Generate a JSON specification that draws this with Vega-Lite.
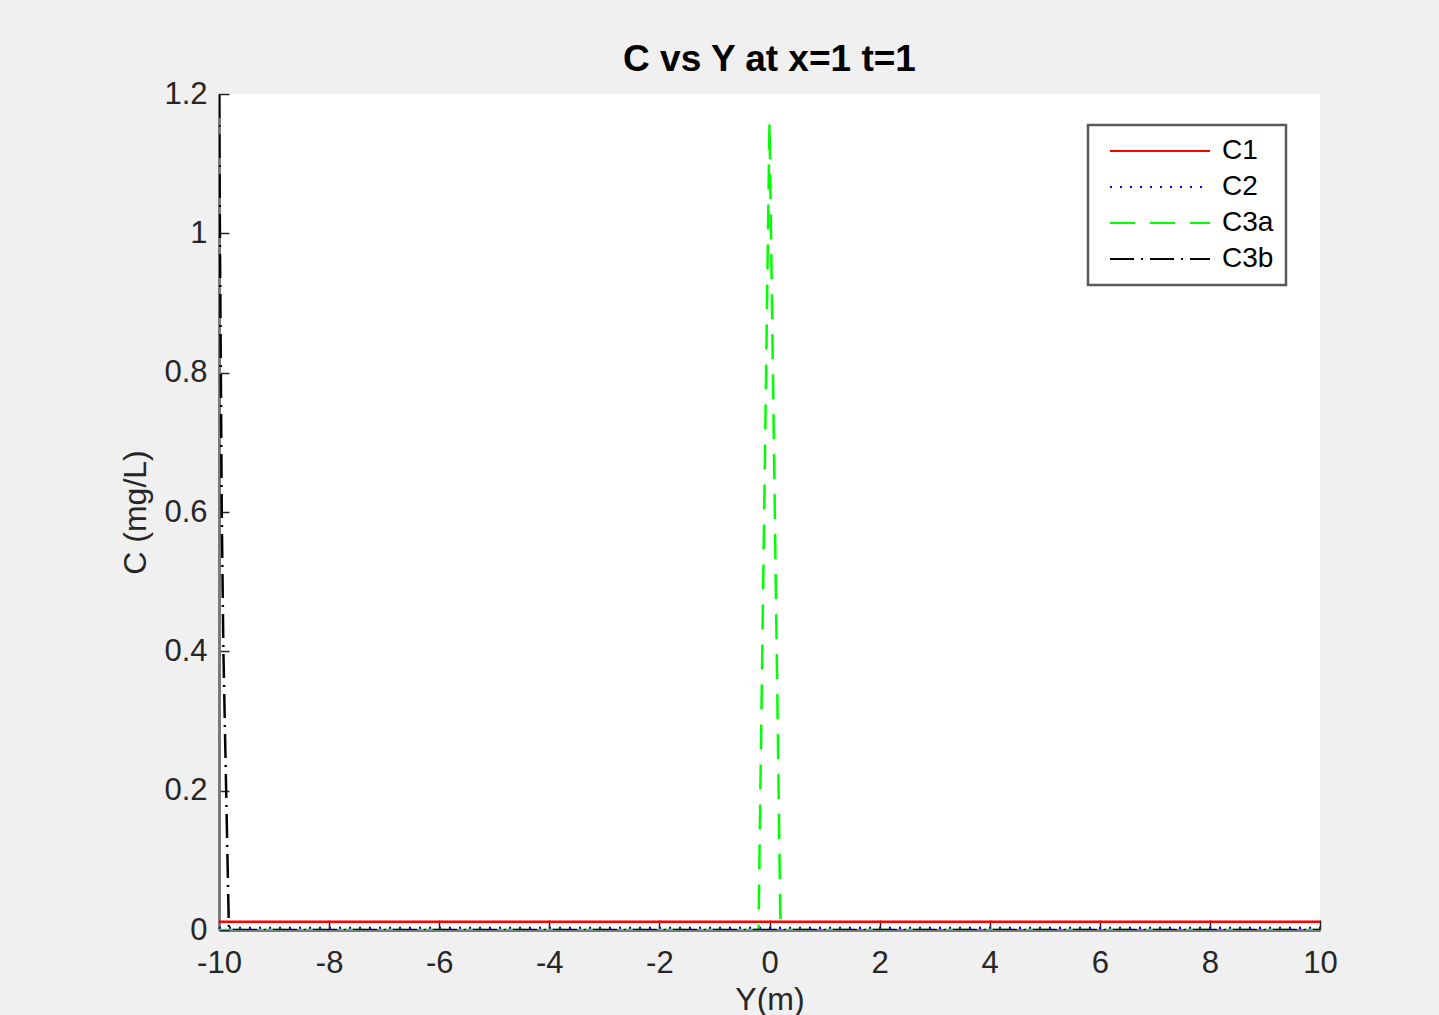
{
  "$schema": "https://vega.github.io/schema/vega-lite/v6.json",
  "width": 1101,
  "height": 836,
  "autosize": {"type": "none"},
  "padding": {"left": 219, "top": 94, "right": 119, "bottom": 85},
  "background": "#f0f0f0",
  "title": {
    "text": "C vs Y at x=1 t=1",
    "font": "Liberation Sans",
    "fontSize": 37,
    "fontWeight": "bold",
    "color": "#000000",
    "anchor": "middle",
    "baseline": "alphabetic",
    "offset": -30
  },
  "data": {
    "values": [
      {"series": "C1", "Y": -10, "C": 0.012},
      {"series": "C1", "Y": 10, "C": 0.012},
      {"series": "C2", "Y": -10, "C": 0.003},
      {"series": "C2", "Y": 10, "C": 0.003},
      {"series": "C3a", "Y": -10, "C": 0},
      {"series": "C3a", "Y": -0.2, "C": 0},
      {"series": "C3a", "Y": 0, "C": 1.16},
      {"series": "C3a", "Y": 0.2, "C": 0},
      {"series": "C3a", "Y": 10, "C": 0},
      {"series": "C3b", "Y": -10, "C": 1.2},
      {"series": "C3b", "Y": -9.95, "C": 0.6},
      {"series": "C3b", "Y": -9.92, "C": 0.4},
      {"series": "C3b", "Y": -9.87, "C": 0.2},
      {"series": "C3b", "Y": -9.82, "C": 0},
      {"series": "C3b", "Y": 10, "C": 0}
    ]
  },
  "mark": {"type": "line", "strokeWidth": 2.5, "clip": true},
  "encoding": {
    "x": {
      "field": "Y",
      "type": "quantitative",
      "scale": {"domain": [-10, 10], "nice": false, "zero": false},
      "axis": {
        "title": "Y(m)",
        "values": [-10, -8, -6, -4, -2, 0, 2, 4, 6, 8, 10],
        "labelExpr": "toString(datum.value)",
        "grid": false,
        "domainColor": "#7a7a7a",
        "domainWidth": 3,
        "tickColor": "#262626",
        "tickSize": -10,
        "tickWidth": 1.5,
        "labelFont": "Liberation Sans",
        "labelFontSize": 31,
        "labelColor": "#262626",
        "labelPadding": 28,
        "labelFlush": false,
        "titleFont": "Liberation Sans",
        "titleFontSize": 32,
        "titleFontWeight": "normal",
        "titleColor": "#262626",
        "titlePadding": 6
      }
    },
    "y": {
      "field": "C",
      "type": "quantitative",
      "scale": {"domain": [0, 1.2], "nice": false},
      "axis": {
        "title": "C (mg/L)",
        "values": [0, 0.2, 0.4, 0.6, 0.8, 1, 1.2],
        "labelExpr": "toString(datum.value)",
        "grid": false,
        "domainColor": "#7a7a7a",
        "domainWidth": 3,
        "tickColor": "#262626",
        "tickSize": -10,
        "tickWidth": 1.5,
        "labelFont": "Liberation Sans",
        "labelFontSize": 31,
        "labelColor": "#262626",
        "labelPadding": 22,
        "labelFlush": false,
        "titleFont": "Liberation Sans",
        "titleFontSize": 32,
        "titleFontWeight": "normal",
        "titleColor": "#262626",
        "titlePadding": 11
      }
    },
    "color": {
      "field": "series",
      "type": "nominal",
      "scale": {
        "domain": ["C1", "C2", "C3a", "C3b"],
        "range": ["#ff0000", "#0000ff", "#00ff00", "#000000"]
      },
      "legend": {
        "title": null,
        "orient": "none",
        "legendX": 869,
        "legendY": 31,
        "symbolType": "M-5,0H5",
        "symbolSize": 400,
        "symbolStrokeWidth": 2,
        "symbolOffset": 46,
        "labelFont": "Liberation Sans",
        "labelFontSize": 28,
        "labelColor": "#000000",
        "labelOffset": 48,
        "strokeColor": "#5a5a5a",
        "fillColor": "#ffffff",
        "padding": 12,
        "rowPadding": 8,
        "encode": {"legend": {"update": {"strokeWidth": {"value": 2.5}}}}
      }
    },
    "strokeDash": {
      "field": "series",
      "type": "nominal",
      "scale": {
        "domain": ["C1", "C2", "C3a", "C3b"],
        "range": [[1, 0], [2, 8], [25, 15], [24, 7, 2, 7]]
      },
      "legend": null
    }
  },
  "config": {
    "view": {"fill": "#ffffff", "stroke": null}
  }
}
